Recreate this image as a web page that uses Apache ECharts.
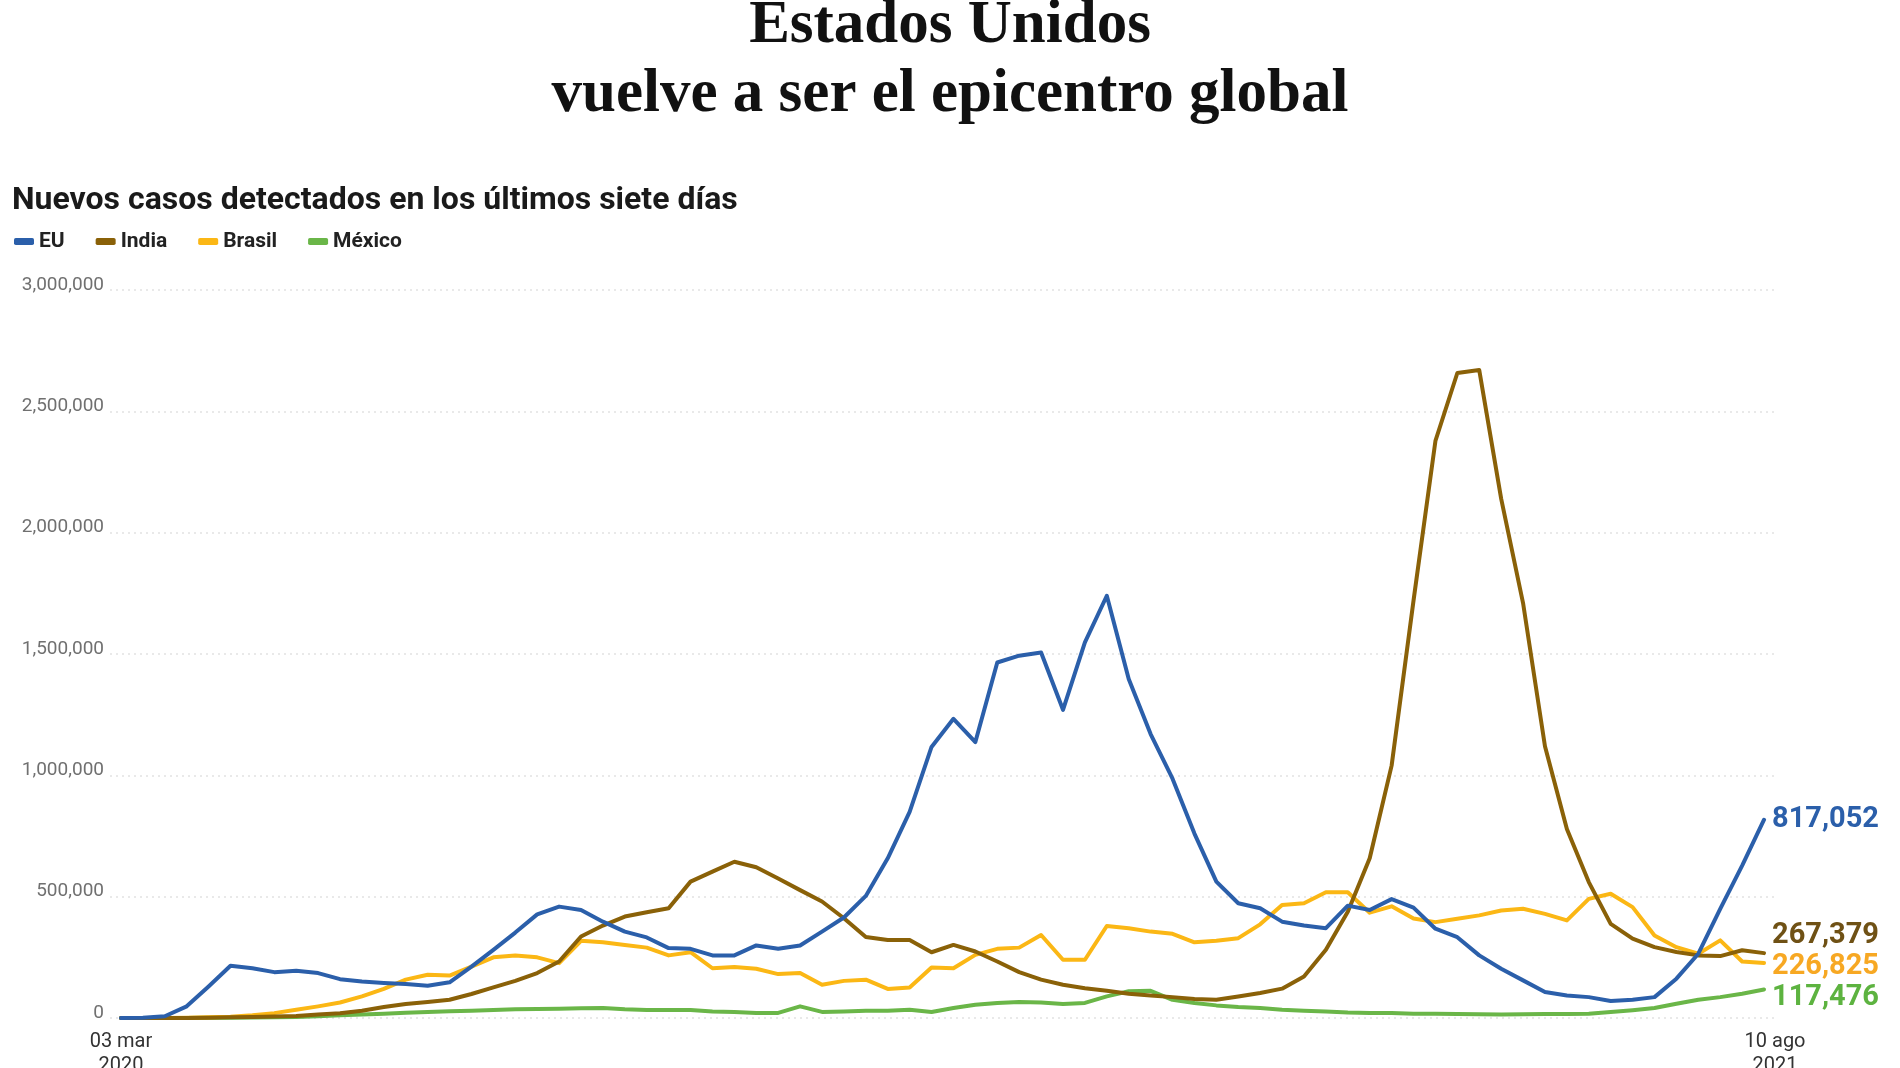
<!DOCTYPE html>
<html>
<head>
<meta charset="utf-8">
<script src="https://cdn.jsdelivr.net/npm/echarts@6/dist/echarts.min.js"></script>
<style>
html,body{margin:0;padding:0;background:#fff;}
#chart{width:1900px;height:1068px;}
</style>
</head>
<body>
<div id="chart"></div>
<script>
const titleLines = ['Estados Unidos', 'vuelve a ser el epicentro global'];
const subtitle = 'Nuevos casos detectados en los últimos siete días';
const seriesNames = ['EU', 'India', 'Brasil', 'México'];

const categories = ['03 mar 2020','10 mar 2020','17 mar 2020','24 mar 2020','31 mar 2020','07 abr 2020','14 abr 2020','21 abr 2020','28 abr 2020','05 may 2020','12 may 2020','19 may 2020','26 may 2020','02 jun 2020','09 jun 2020','16 jun 2020','23 jun 2020','30 jun 2020','07 jul 2020','14 jul 2020','21 jul 2020','28 jul 2020','04 ago 2020','11 ago 2020','18 ago 2020','25 ago 2020','01 sep 2020','08 sep 2020','15 sep 2020','22 sep 2020','29 sep 2020','06 oct 2020','13 oct 2020','20 oct 2020','27 oct 2020','03 nov 2020','10 nov 2020','17 nov 2020','24 nov 2020','01 dic 2020','08 dic 2020','15 dic 2020','22 dic 2020','29 dic 2020','05 ene 2021','12 ene 2021','19 ene 2021','26 ene 2021','02 feb 2021','09 feb 2021','16 feb 2021','23 feb 2021','02 mar 2021','09 mar 2021','16 mar 2021','23 mar 2021','30 mar 2021','06 abr 2021','13 abr 2021','20 abr 2021','27 abr 2021','04 may 2021','11 may 2021','18 may 2021','25 may 2021','01 jun 2021','08 jun 2021','15 jun 2021','22 jun 2021','29 jun 2021','06 jul 2021','13 jul 2021','20 jul 2021','27 jul 2021','03 ago 2021','10 ago 2021'];

const euValues = [100, 1500, 7000, 48000, 130000, 215000, 205000, 189000, 195000, 185000,
160000, 150000, 144000, 140000, 133000, 147000, 212000, 281000, 352000, 427000,
459000, 445000, 397000, 356000, 332000, 288000, 285000, 258000, 258000, 299000,
285000, 299000, 356000, 414000, 503000, 658000, 849000, 1117000, 1233000, 1137000,
1465000, 1493000, 1506000, 1270000, 1548000, 1740000, 1397000, 1170000, 986000, 760000,
562000, 473000, 452000, 397000, 381000, 370000, 463000, 445000, 490000, 455000,
368000, 333000, 258000, 203000, 155000, 107000, 93000, 86000, 70000, 75000,
86000, 162000, 265000, 450000, 628000, 817052];

const indiaValues = [0, 20, 100, 500, 1500, 3000, 4500, 6000, 8000, 14000,
20000, 30000, 45000, 58000, 66000, 75000, 99000, 126000, 153000, 185000,
233000, 336000, 381000, 418000, 436000, 452000, 562000, 603000, 644000, 621000,
575000, 527000, 480000, 411000, 334000, 321000, 321000, 271000, 301000, 274000,
233000, 189000, 158000, 137000, 123000, 112000, 100000, 93000, 86000, 78000,
75000, 89000, 103000, 121000, 171000, 281000, 438000, 658000, 1040000, 1720000,
2378000, 2658000, 2670000, 2140000, 1710000, 1120000, 779000, 560000, 388000, 327000,
292000, 272000, 258000, 255000, 279000, 267379];

const brasilValues = [0, 0, 200, 1500, 3000, 5000, 11000, 20000, 34000, 48000,
64000, 89000, 120000, 158000, 178000, 175000, 212000, 250000, 258000, 250000,
226000, 318000, 312000, 301000, 290000, 258000, 271000, 205000, 210000, 203000,
181000, 185000, 137000, 153000, 158000, 120000, 126000, 208000, 205000, 260000,
285000, 290000, 342000, 240000, 240000, 379000, 370000, 356000, 347000, 312000,
318000, 329000, 386000, 466000, 473000, 518000, 518000, 434000, 460000, 410000,
395000, 409000, 423000, 443000, 450000, 429000, 402000, 491000, 512000, 457000,
340000, 292000, 265000, 320000, 233000, 226825];

const mexicoValues = [0, 0, 50, 200, 700, 1500, 2500, 3000, 4000, 7000,
11000, 14000, 18000, 22000, 25000, 28000, 30000, 33000, 36000, 37000,
38000, 40000, 41000, 36000, 33000, 33000, 33000, 27000, 25000, 21000,
21000, 48000, 25000, 27000, 30000, 30000, 34000, 25000, 41000, 55000,
62000, 66000, 64000, 58000, 62000, 89000, 110000, 112000, 75000, 62000,
52000, 45000, 41000, 34000, 30000, 27000, 23000, 21000, 21000, 18000,
17000, 16000, 15000, 14000, 15000, 16000, 16000, 18000, 25000, 32000,
41000, 59000, 75000, 86000, 100000, 117476];

const yTicks = [0, 500000, 1000000, 1500000, 2000000, 2500000, 3000000];

const lineColors = ['#2b5faa', '#8a6108', '#fbb715', '#6ab648'];
const labelColors = ['#2b5faa', '#6f5115', '#f7a823', '#5db340'];
const labelOffsets = [[0, 0], [0, -17], [0, 4], [0, 8]];
const allValues = [euValues, indiaValues, brasilValues, mexicoValues];

const fmt = v => Number(v).toLocaleString('en-US');

const chart = echarts.init(document.getElementById('chart'), null, {renderer: 'canvas'});

const series = seriesNames.map((name, k) => ({
  name: name,
  type: 'line',
  data: allValues[k],
  symbol: 'none',
  z: 10 - k,
  lineStyle: {width: 4, color: lineColors[k], join: 'round', cap: 'round'},
  itemStyle: {color: lineColors[k]},
  endLabel: {
    show: true,
    formatter: p => fmt(p.value),
    color: labelColors[k],
    fontFamily: 'Roboto',
    fontWeight: 'bold',
    fontSize: 29,
    distance: 8,
    offset: labelOffsets[k]
  }
}));

const lastIdx = categories.length - 1;

chart.setOption({
  animation: false,
  backgroundColor: '#ffffff',
  textStyle: {fontFamily: 'Roboto'},
  graphic: [
    {type: 'text', x: 950, y: 26, style: {text: titleLines[0], font: 'bold 61px "Liberation Serif"', fill: '#111', align: 'center', verticalAlign: 'middle'}},
    {type: 'text', x: 950, y: 95, style: {text: titleLines[1], font: 'bold 61px "Liberation Serif"', fill: '#111', align: 'center', verticalAlign: 'middle'}},
    {type: 'text', x: 12, y: 201, style: {text: subtitle, font: 'bold 32px Roboto', fill: '#1a1a1a', align: 'left', verticalAlign: 'middle'}}
  ],
  legend: {
    data: seriesNames,
    left: 14,
    top: 231,
    padding: 0,
    itemGap: 31,
    itemWidth: 20,
    itemHeight: 7,
    icon: 'roundRect',
    textStyle: {fontSize: 21, fontWeight: 'bold', color: '#222'}
  },
  grid: {left: 110, right: 125, top: 290, bottom: 50, containLabel: false, outerBoundsMode: 'none'},
  xAxis: {
    type: 'category',
    data: categories,
    boundaryGap: true,
    axisLine: {show: false},
    axisTick: {show: false},
    splitLine: {show: false},
    axisLabel: {
      interval: (i) => i === 0 || i === lastIdx,
      formatter: (v, i) => {
        const parts = v.match(/^(.*) (\d{4})$/);
        const key = i === lastIdx ? 'e' : 's';
        return '{' + key + '|' + parts[1] + '}\n{' + key + '|' + parts[2] + '}';
      },
      rich: {
        s: {color: '#333', fontSize: 20, lineHeight: 24, fontFamily: 'Roboto'},
        e: {color: '#333', fontSize: 20, lineHeight: 24, fontFamily: 'Roboto', padding: [0, 0, 0, 22]}
      },
      color: '#333',
      fontSize: 20,
      margin: 12,
      showMinLabel: true,
      showMaxLabel: true
    }
  },
  yAxis: {
    type: 'value',
    min: yTicks[0],
    max: yTicks[yTicks.length - 1],
    interval: yTicks[1] - yTicks[0],
    axisLine: {show: false},
    axisTick: {show: false},
    axisLabel: {
      formatter: v => fmt(v),
      color: '#707070',
      fontSize: 19,
      margin: 6,
      verticalAlign: 'bottom',
      lineHeight: 10
    },
    splitLine: {lineStyle: {color: '#e2e2e2', width: 1.5, type: [2, 4]}}
  },
  series: series
});
</script>
</body>
</html>
